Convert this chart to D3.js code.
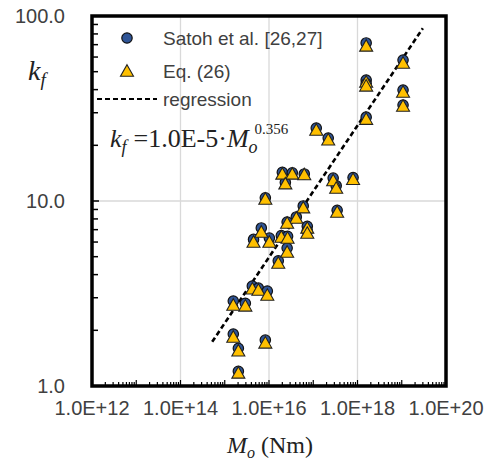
<!DOCTYPE html>
<html>
<head>
<meta charset="utf-8">
<script src="https://cdn.jsdelivr.net/npm/d3@7"></script>
<style>
  html, body { margin: 0; padding: 0; background: #fff; }
  svg { display: block; }
</style>
</head>
<body>
<svg id="chart" width="491" height="462"></svg>
<script>
// ---- data ----
const moValues = [1.57e18, 1.57e18, 1.57e18, 1.57e18, 1.07e19, 1.07e19, 1.07e19,
  1.17e17, 2.18e17, 2.0e16, 3.36e16, 6.27e16, 2.34e16, 2.82e17, 3.3e17, 7.94e17,
  8.26e15, 5.94e16, 3.47e17, 4.14e16, 2.57e16, 7.33e16, 7.33e16, 6.7e15, 4.47e15,
  1.02e16, 1.9e16, 2.63e16, 2.57e16, 1.62e16, 4.2e15, 5.75e15, 9.16e15, 1.56e15,
  2.92e15, 1.56e15, 2.03e15, 8.26e15, 2.03e15];
const satohKf = [71.5, 45.1, 43.0, 28.4, 57.8, 39.8, 33.0,
  24.8, 21.9, 14.3, 14.2, 14.0, 12.6, 13.3, 12.1, 13.4,
  10.4, 9.4, 8.9, 8.2, 7.7, 7.3, 6.9, 7.15, 6.2,
  6.3, 6.5, 6.45, 5.57, 4.75, 3.47, 3.38, 3.26, 2.88,
  2.8, 1.91, 1.6, 1.77, 1.2];
const eqKf = [68.9, 44.0, 41.9, 27.7, 55.7, 38.8, 32.6,
  24.2, 21.4, 14.0, 14.0, 13.9, 12.4, 12.9, 11.75, 13.1,
  10.25, 9.2, 8.72, 8.09, 7.6, 7.15, 6.71, 6.8, 6.0,
  6.0, 6.39, 6.3, 5.3, 4.62, 3.35, 3.3, 3.1, 2.74,
  2.71, 1.84, 1.55, 1.71, 1.176];
const regressionMo = [5.2e14, 3.0e19];
const regCoef = 1.0e-5, regExp = 0.356;
const xTickValues = [1e12, 1e14, 1e16, 1e18, 1e20];
const xTickLabels = ["1.0E+12", "1.0E+14", "1.0E+16", "1.0E+18", "1.0E+20"];
const yTickValues = [1, 10, 100];
const yTickLabels = ["1.0", "10.0", "100.0"];
const legendLabels = ["Satoh et al. [26,27]", "Eq. (26)", "regression"];

// ---- layout ----
const L = 92, R = 446, T = 16, B = 386;
const svg = d3.select("#chart");
const x = d3.scaleLog().domain([1e12, 1e20]).range([L, R]);
const y = d3.scaleLog().domain([1, 100]).range([B, T]);
const sansFont = "'Liberation Sans', Arial, sans-serif";
const serifFont = "'Liberation Serif', 'Times New Roman', serif";

// gridlines
const gridX = xTickValues.slice(1, -1);
svg.append("g").selectAll("line").data(gridX).join("line")
  .attr("x1", d => x(d)).attr("x2", d => x(d)).attr("y1", T).attr("y2", B)
  .attr("stroke", "#d9d9d9").attr("stroke-width", 1.3);
svg.append("g").selectAll("line").data([10]).join("line")
  .attr("y1", d => y(d)).attr("y2", d => y(d)).attr("x1", L).attr("x2", R)
  .attr("stroke", "#d9d9d9").attr("stroke-width", 1.3);

// minor ticks (inside)
const yMinor = [];
for (let dec = 1; dec < 100; dec *= 10) for (let m = 1; m < 10; m++) yMinor.push(dec * m);
yMinor.push(100);
svg.append("g").selectAll("line").data(yMinor).join("line")
  .attr("x1", L).attr("x2", d => L + (Math.abs(Math.log10(d) % 1) < 1e-9 ? 7 : 6))
  .attr("y1", d => y(d)).attr("y2", d => y(d))
  .attr("stroke", "#000").attr("stroke-width", 1.5);
const xMinor = [];
for (let e = 12; e < 20; e++) for (let m = 1; m < 10; m++) xMinor.push(m * Math.pow(10, e));
xMinor.push(1e20);
svg.append("g").selectAll("line").data(xMinor).join("line")
  .attr("x1", d => x(d)).attr("x2", d => x(d))
  .attr("y1", B).attr("y2", d => B - (Math.abs(Math.log10(d) % 1) < 1e-6 ? 6 : 4))
  .attr("stroke", "#000").attr("stroke-width", 1.2);

// regression line
const regData = regressionMo.map(m => ({m, k: regCoef * Math.pow(m, regExp)}));
svg.append("path")
  .datum(regData)
  .attr("d", d3.line().x(d => x(d.m)).y(d => y(d.k)))
  .attr("fill", "none").attr("stroke", "#000").attr("stroke-width", 2.6)
  .attr("stroke-dasharray", "5,3");

// markers
const triPath = "M0,-6.3 L6.5,5.2 L-6.5,5.2 Z";
const satoh = moValues.map((m, i) => ({m, k: satohKf[i]}));
const eq = moValues.map((m, i) => ({m, k: eqKf[i]}));
svg.append("g").selectAll("circle").data(satoh).join("circle")
  .attr("cx", d => x(d.m)).attr("cy", d => y(d.k)).attr("r", 5.2)
  .attr("fill", "#2f5597").attr("stroke", "#111").attr("stroke-width", 1.2);
svg.append("g").selectAll("path").data(eq).join("path")
  .attr("transform", d => `translate(${x(d.m)},${y(d.k)})`)
  .attr("d", triPath)
  .attr("fill", "#ffc000").attr("stroke", "#222").attr("stroke-width", 1.1);

// frame
svg.append("rect").attr("x", L).attr("y", T).attr("width", R - L).attr("height", B - T)
  .attr("fill", "none").attr("stroke", "#000").attr("stroke-width", 3.5);

// tick labels
svg.append("g").selectAll("text").data(xTickValues).join("text")
  .attr("x", d => x(d)).attr("y", 415).attr("text-anchor", "middle")
  .attr("font-family", sansFont).attr("font-size", 20).attr("fill", "#404040")
  .text((d, i) => xTickLabels[i]);
svg.append("g").selectAll("text").data(yTickValues).join("text")
  .attr("x", 65).attr("y", d => y(d) + 7).attr("text-anchor", "end")
  .attr("font-family", sansFont).attr("font-size", 20).attr("fill", "#404040")
  .text((d, i) => yTickLabels[i]);

// axis titles
const yl = svg.append("text").attr("x", 28).attr("y", 80)
  .attr("font-family", serifFont).attr("font-size", 28).attr("fill", "#222");
yl.append("tspan").attr("font-style", "italic").text("k");
yl.append("tspan").attr("font-style", "italic").attr("font-size", 19).attr("dy", 6).text("f");

const xl = svg.append("text").attr("x", 270).attr("y", 453).attr("text-anchor", "middle")
  .attr("font-family", serifFont).attr("font-size", 24).attr("fill", "#222");
xl.append("tspan").attr("font-style", "italic").text("M");
xl.append("tspan").attr("font-style", "italic").attr("font-size", 16).attr("dy", 5).text("o");
xl.append("tspan").attr("dy", -5).text(" (Nm)");

// equation
const eqT = svg.append("text").attr("x", 110).attr("y", 147)
  .attr("font-family", serifFont).attr("font-size", 26).attr("fill", "#222");
eqT.append("tspan").attr("font-style", "italic").text("k");
eqT.append("tspan").attr("font-style", "italic").attr("font-size", 18).attr("dy", 6).text("f");
eqT.append("tspan").attr("dy", -6).attr("dx", 7).text("=1.0E-5\u00b7");
eqT.append("tspan").attr("font-style", "italic").text("M");
eqT.append("tspan").attr("font-style", "italic").attr("font-size", 18).attr("dy", 6).text("o");
eqT.append("tspan").attr("font-size", 15).attr("dy", -19).attr("dx", -3).text("0.356");

// legend
const lg = svg.append("g");
lg.append("circle").attr("cx", 127).attr("cy", 38).attr("r", 5.2)
  .attr("fill", "#2f5597").attr("stroke", "#111").attr("stroke-width", 1.2);
lg.append("path").attr("transform", "translate(127,71)").attr("d", triPath)
  .attr("fill", "#ffc000").attr("stroke", "#222").attr("stroke-width", 1.1);
lg.append("line").attr("x1", 97).attr("x2", 157).attr("y1", 99).attr("y2", 99)
  .attr("stroke", "#000").attr("stroke-width", 2).attr("stroke-dasharray", "5,3");
lg.selectAll("text").data(legendLabels).join("text")
  .attr("x", 163).attr("y", (d, i) => [38, 71, 99][i] + 7)
  .attr("font-family", sansFont).attr("font-size", 19).attr("fill", "#404040")
  .text(d => d);
</script>
</body>
</html>
